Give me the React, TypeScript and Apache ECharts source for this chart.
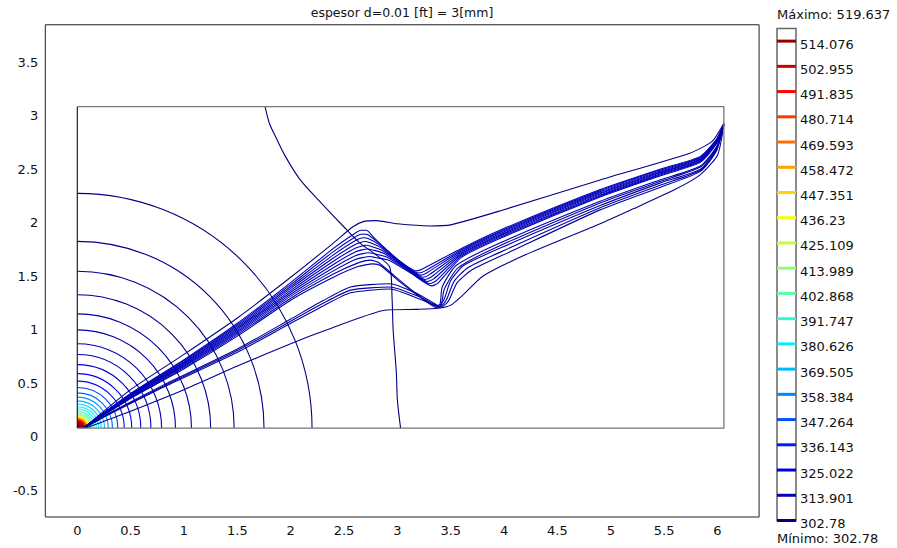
import React, { useEffect, useRef } from "react";
import * as echarts from "echarts";

const TITLE = "espesor d=0.01 [ft] = 3[mm]";
const T_MIN = 302.78;
const T_MAX = 519.637;
const LEVELS = [302.78, 313.901, 325.022, 336.143, 347.264, 358.384, 369.505, 380.626, 391.747, 402.868, 413.989, 425.109, 436.23, 447.351, 458.472, 469.593, 480.714, 491.835, 502.955, 514.076];

// domain rectangle (data units)
const DOMAIN_X = [0, 6.06];
const DOMAIN_Y = [0.081, 3.084];

// concentric isotherms around the source at the lower-left corner
const ARC_RADII = [2.2, 1.75, 1.47, 1.25, 1.07, 0.92, 0.79, 0.69, 0.595, 0.51, 0.44, 0.38, 0.33, 0.29, 0.255, 0.225, 0.2, 0.178, 0.158, 0.14, 0.124, 0.11, 0.098, 0.087, 0.077, 0.068, 0.06, 0.052, 0.045, 0.038, 0.031, 0.025, 0.019, 0.013, 0.008];
const ARC_TEMPS = [304, 305, 306, 307.5, 309, 311, 313, 316, 320, 326, 333, 342, 352, 361, 369, 376, 382, 388, 395, 403, 413, 425, 440, 458, 476, 492, 502, 508, 512, 515, 517, 518, 519, 519.3, 519.6];

// deformed outer isotherm
const OUTER_ISO: number[][] = [[1.76, 3.084], [1.8, 2.93], [1.86, 2.8], [1.95, 2.62], [2.09, 2.4], [2.3, 2.17], [2.5, 1.96], [2.65, 1.81], [2.8, 1.7], [2.93, 1.58], [2.95, 1.3], [2.96, 1.0], [2.99, 0.6], [3.0, 0.343], [3.03, 0.081]];
const OUTER_TEMP = 303.5;

// isotherms squeezed along the thin layer
const UPPER_LINE: number[][] = [[0.07, 0.09], [0.5, 0.44], [1.0, 0.77], [1.5, 1.11], [2.0, 1.49], [2.4, 1.81], [2.58, 1.96], [2.68, 2.01], [2.8, 2.02], [3.0, 1.99], [3.3, 1.97], [3.5, 1.98], [3.96, 2.11], [4.9, 2.4], [5.74, 2.65], [5.95, 2.76], [6.06, 2.93]];
const MAIN_0: number[][] = [[0.06, 0.085], [0.2, 0.19], [0.5, 0.405], [1.0, 0.72], [1.5, 1.06], [2.0, 1.44], [2.4, 1.76], [2.6, 1.9], [2.66, 1.93], [2.71, 1.93], [2.78, 1.86], [3.0, 1.66], [3.18, 1.55], [3.24, 1.57], [3.6, 1.76], [3.96, 1.93], [4.9, 2.31], [5.46, 2.5], [5.84, 2.62], [5.99, 2.78], [6.06, 2.92]];
const MAIN_1: number[][] = [[0.06, 0.085], [0.2, 0.188], [0.5, 0.4], [1.0, 0.711], [1.5, 1.047], [2.0, 1.422], [2.4, 1.73], [2.6, 1.865], [2.672, 1.895], [2.72, 1.89], [2.8, 1.83], [3.02, 1.64], [3.2, 1.53], [3.26, 1.55], [3.6, 1.748], [3.96, 1.919], [4.9, 2.3], [5.46, 2.491], [5.84, 2.612], [5.99, 2.774], [6.06, 2.92]];
const MAIN_2: number[][] = [[0.06, 0.085], [0.2, 0.186], [0.5, 0.395], [1.0, 0.702], [1.5, 1.034], [2.0, 1.404], [2.4, 1.7], [2.6, 1.83], [2.684, 1.86], [2.73, 1.85], [2.82, 1.8], [3.04, 1.62], [3.22, 1.51], [3.28, 1.535], [3.6, 1.736], [3.96, 1.908], [4.9, 2.29], [5.46, 2.482], [5.84, 2.604], [5.99, 2.768], [6.06, 2.92]];
const MAIN_3: number[][] = [[0.06, 0.085], [0.2, 0.184], [0.5, 0.39], [1.0, 0.693], [1.5, 1.021], [2.0, 1.386], [2.4, 1.67], [2.6, 1.795], [2.696, 1.825], [2.74, 1.815], [2.84, 1.77], [3.06, 1.6], [3.24, 1.49], [3.3, 1.515], [3.6, 1.724], [3.96, 1.897], [4.9, 2.28], [5.46, 2.473], [5.84, 2.596], [5.99, 2.762], [6.06, 2.92]];
const MAIN_4: number[][] = [[0.06, 0.085], [0.2, 0.182], [0.5, 0.385], [1.0, 0.684], [1.5, 1.008], [2.0, 1.368], [2.4, 1.64], [2.6, 1.76], [2.708, 1.79], [2.75, 1.78], [2.86, 1.74], [3.08, 1.58], [3.26, 1.47], [3.32, 1.495], [3.6, 1.712], [3.96, 1.886], [4.9, 2.27], [5.46, 2.464], [5.84, 2.588], [5.99, 2.756], [6.06, 2.92]];
const MAIN_5: number[][] = [[0.06, 0.085], [0.2, 0.18], [0.5, 0.38], [1.0, 0.675], [1.5, 0.995], [2.0, 1.35], [2.4, 1.61], [2.6, 1.725], [2.72, 1.755], [2.77, 1.745], [2.88, 1.71], [3.1, 1.56], [3.28, 1.45], [3.34, 1.475], [3.6, 1.7], [3.96, 1.875], [4.9, 2.26], [5.46, 2.455], [5.84, 2.58], [5.99, 2.75], [6.06, 2.92]];
const MAIN_6: number[][] = [[0.06, 0.085], [0.2, 0.178], [0.5, 0.375], [1.0, 0.666], [1.5, 0.982], [2.0, 1.332], [2.4, 1.58], [2.6, 1.69], [2.732, 1.72], [2.78, 1.71], [2.9, 1.68], [3.12, 1.54], [3.3, 1.43], [3.36, 1.455], [3.6, 1.688], [3.96, 1.864], [4.9, 2.25], [5.46, 2.446], [5.84, 2.572], [5.99, 2.744], [6.06, 2.92]];
const MAIN_7: number[][] = [[0.06, 0.085], [0.2, 0.176], [0.5, 0.37], [1.0, 0.657], [1.5, 0.969], [2.0, 1.314], [2.4, 1.55], [2.6, 1.655], [2.744, 1.685], [2.79, 1.675], [2.92, 1.65], [3.14, 1.52], [3.32, 1.41], [3.38, 1.435], [3.6, 1.676], [3.96, 1.853], [4.9, 2.24], [5.46, 2.437], [5.84, 2.564], [5.99, 2.738], [6.06, 2.92]];
const V_1: number[][] = [[0.06, 0.085], [0.2, 0.174], [0.5, 0.364], [1.0, 0.646], [1.5, 0.954], [2.0, 1.294], [2.4, 1.52], [2.62, 1.62], [2.75, 1.65], [2.82, 1.63], [3.0, 1.48], [3.2, 1.32], [3.36, 1.22], [3.4, 1.24], [3.42, 1.4], [3.55, 1.6], [3.96, 1.81], [4.9, 2.2], [5.46, 2.4], [5.84, 2.53], [5.99, 2.71], [6.06, 2.92]];
const V_2: number[][] = [[0.06, 0.085], [0.2, 0.172], [0.5, 0.358], [1.0, 0.635], [1.5, 0.94], [2.0, 1.276], [2.4, 1.49], [2.63, 1.59], [2.77, 1.615], [2.84, 1.6], [3.02, 1.45], [3.22, 1.3], [3.37, 1.205], [3.41, 1.225], [3.44, 1.38], [3.57, 1.58], [3.97, 1.79], [4.9, 2.185], [5.46, 2.385], [5.84, 2.52], [5.99, 2.7], [6.06, 2.92]];
const LOW_1: number[][] = [[0.07, 0.085], [0.3, 0.22], [0.8, 0.48], [1.5, 0.82], [2.0, 1.1], [2.3, 1.27], [2.56, 1.4], [2.93, 1.43], [3.2, 1.33], [3.34, 1.25], [3.39, 1.22], [3.44, 1.29], [3.5, 1.46], [3.62, 1.6], [3.98, 1.77], [4.9, 2.16], [5.46, 2.37], [5.84, 2.5], [5.99, 2.69], [6.06, 2.92]];
const LOW_2: number[][] = [[0.07, 0.085], [0.3, 0.215], [0.8, 0.47], [1.5, 0.805], [2.0, 1.08], [2.3, 1.245], [2.56, 1.37], [2.93, 1.4], [3.2, 1.31], [3.35, 1.235], [3.4, 1.215], [3.46, 1.28], [3.53, 1.45], [3.66, 1.58], [4.02, 1.75], [4.9, 2.14], [5.46, 2.35], [5.84, 2.49], [5.99, 2.68], [6.06, 2.92]];
const LOW_3: number[][] = [[0.07, 0.085], [0.3, 0.21], [0.8, 0.46], [1.5, 0.79], [2.0, 1.06], [2.3, 1.22], [2.56, 1.345], [2.93, 1.38], [3.2, 1.29], [3.36, 1.225], [3.41, 1.21], [3.48, 1.27], [3.56, 1.44], [3.7, 1.56], [4.06, 1.73], [4.9, 2.12], [5.46, 2.33], [5.84, 2.48], [5.99, 2.67], [6.06, 2.92]];
const LOW_4: number[][] = [[0.09, 0.085], [0.4, 0.2], [1.0, 0.44], [1.5, 0.66], [2.0, 0.87], [2.34, 1.0], [2.87, 1.18], [3.18, 1.19], [3.38, 1.2], [3.5, 1.23], [3.62, 1.33], [3.8, 1.5], [4.2, 1.7], [4.9, 1.99], [5.21, 2.13], [5.6, 2.31], [5.84, 2.45], [6.0, 2.63], [6.06, 2.92]];

const LAYER_LINES = [UPPER_LINE, MAIN_0, MAIN_1, MAIN_2, MAIN_3, MAIN_4, MAIN_5, MAIN_6, MAIN_7, V_1, V_2, LOW_1, LOW_2, LOW_3, LOW_4];
const LAYER_TEMPS = [305, 315, 315, 315, 315, 315, 315, 315, 315, 312, 312, 310, 310, 310, 306];

const FONT = "DejaVu Sans";

function jet(v: number): string {
  const t = (v - T_MIN) / (T_MAX - T_MIN);
  const c = (x: number) => Math.round(255 * Math.max(0, Math.min(1, 1.5 - Math.abs(4 * t - x))));
  return `rgb(${c(3)},${c(2)},${c(1)})`;
}

function halfStep(v: number): string {
  const k = v * 2;
  if (Math.abs(k - Math.round(k)) > 1e-6) return "";
  return String(Math.round(v * 10) / 10);
}

export default function App() {
  const ref = useRef<HTMLDivElement>(null);
  useEffect(() => {
    if (!ref.current) return;
    const chart = echarts.init(ref.current, undefined, { renderer: "svg" });
    const series: any[] = [];

    series.push({
      type: "custom",
      xAxisIndex: 0,
      yAxisIndex: 0,
      silent: true,
      data: ARC_RADII.map((r, i) => [r, ARC_TEMPS[i]]),
      renderItem: (_p: any, api: any) => {
        const r = api.value(0);
        const temp = api.value(1);
        const c = api.coord([DOMAIN_X[0], DOMAIN_Y[0]]);
        const s = api.size([r, 0]);
        return {
          type: "arc",
          shape: { cx: c[0], cy: c[1], r: s[0], startAngle: -Math.PI / 2, endAngle: 0, clockwise: true },
          style: { stroke: jet(temp), fill: null, lineWidth: r < 0.1 ? 2.6 : 1.1 },
        };
      },
    });

    series.push({
      type: "line",
      xAxisIndex: 0,
      yAxisIndex: 0,
      data: OUTER_ISO,
      symbol: "none",
      smooth: 0.3,
      silent: true,
      lineStyle: { color: jet(OUTER_TEMP), width: 1.1 },
    });

    LAYER_LINES.forEach((pts, i) => {
      series.push({
        type: "line",
        xAxisIndex: 0,
        yAxisIndex: 0,
        data: pts,
        symbol: "none",
        smooth: 0.2,
        silent: true,
        lineStyle: { color: jet(LAYER_TEMPS[i]), width: 1.1 },
      });
    });

    series.push({
      type: "line",
      xAxisIndex: 0,
      yAxisIndex: 0,
      data: [[DOMAIN_X[0], DOMAIN_Y[1]], [DOMAIN_X[1], DOMAIN_Y[1]], [DOMAIN_X[1], DOMAIN_Y[0]], [DOMAIN_X[0], DOMAIN_Y[0]]],
      symbol: "none",
      silent: true,
      lineStyle: { color: "#777", width: 1.3 },
    });
    series.push({
      type: "line",
      xAxisIndex: 0,
      yAxisIndex: 0,
      data: [[DOMAIN_X[0], DOMAIN_Y[0]], [DOMAIN_X[0], DOMAIN_Y[1]]],
      symbol: "none",
      silent: true,
      lineStyle: { color: "#222", width: 1.2 },
    });

    series.push({
      type: "custom",
      xAxisIndex: 1,
      yAxisIndex: 1,
      silent: true,
      data: LEVELS.map((v) => [0, v]),
      renderItem: (p: any, api: any) => {
        const v = api.value(1);
        const a = api.coord([0, v]);
        const b = api.coord([1, v]);
        return {
          type: "group",
          children: [
            { type: "line", shape: { x1: a[0], y1: a[1], x2: b[0], y2: b[1] }, style: { stroke: jet(v), lineWidth: 3 } },
            {
              type: "text",
              x: b[0] + 4,
              y: a[1] + 3,
              style: { text: String(LEVELS[p.dataIndex]), fill: "#111", font: `13px "${FONT}"`, align: "left", verticalAlign: "middle" },
            },
          ],
        };
      },
    });

    chart.setOption({
      animation: false,
      backgroundColor: "#fff",
      title: [
        { text: TITLE, left: 402, top: 6, textAlign: "center", padding: 0, textStyle: { fontSize: 12.5, fontWeight: "normal", color: "#111", fontFamily: FONT } },
        { text: `Máximo: ${T_MAX}`, left: 777, top: 8, padding: 0, textStyle: { fontSize: 13, fontWeight: "normal", color: "#111", fontFamily: FONT } },
        { text: `Mínimo: ${T_MIN}`, left: 777, top: 532, padding: 0, textStyle: { fontSize: 13, fontWeight: "normal", color: "#111", fontFamily: FONT } },
      ],
      grid: [
        { left: 45.3, top: 24.75, width: 713.8, height: 492.25, show: true, borderColor: "#222", borderWidth: 1, backgroundColor: "transparent" },
        { left: 777, top: 28.5, width: 19, height: 492, show: true, borderColor: "#666", borderWidth: 1.5, backgroundColor: "transparent" },
      ],
      xAxis: [
        {
          gridIndex: 0, type: "value", min: -0.3, max: 6.39, interval: 0.1,
          axisLine: { show: false }, axisTick: { show: false }, splitLine: { show: false },
          axisLabel: { formatter: (v: number) => (v < -1e-9 ? "" : halfStep(v)), color: "#111", fontSize: 13, fontFamily: FONT, margin: 7 },
        },
        { gridIndex: 1, type: "value", min: 0, max: 1, show: false },
      ],
      yAxis: [
        {
          gridIndex: 0, type: "value", min: -0.75, max: 3.85, interval: 0.25,
          axisLine: { show: false }, axisTick: { show: false }, splitLine: { show: false },
          axisLabel: { formatter: (v: number) => halfStep(v), color: "#111", fontSize: 13, fontFamily: FONT, margin: 7 },
        },
        { gridIndex: 1, type: "value", min: T_MIN, max: T_MAX, show: false },
      ],
      series,
    });
    return () => chart.dispose();
  }, []);
  return <div ref={ref} style={{ position: "fixed", left: 0, top: 0, width: 897, height: 548, background: "#fff" }} />;
}
